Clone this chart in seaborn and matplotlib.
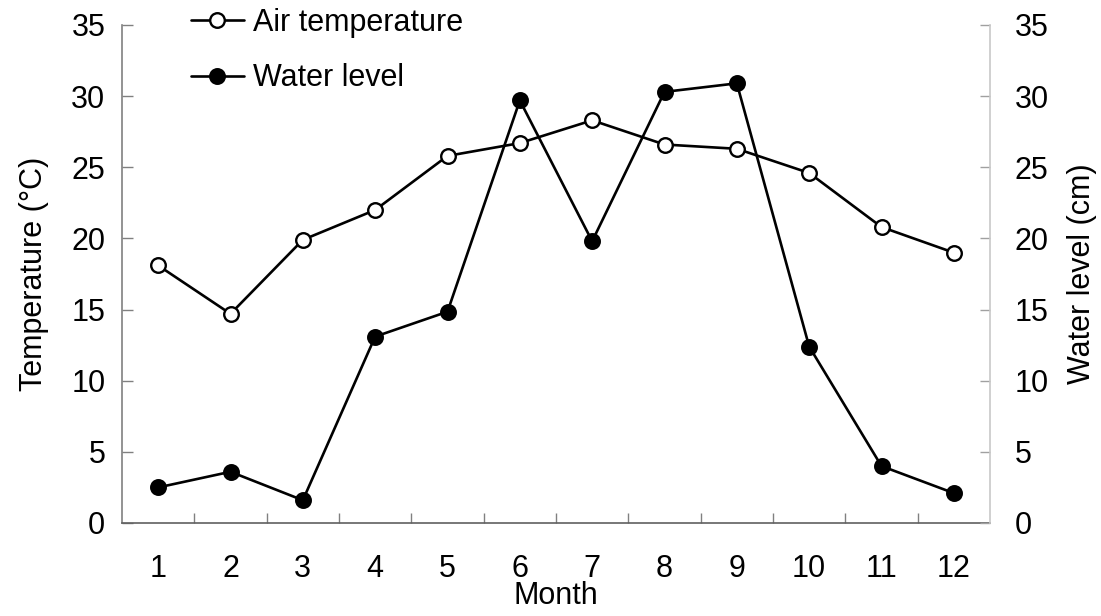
import matplotlib
matplotlib.use("Agg")
import matplotlib.pyplot as plt
import seaborn as sns
import numpy as np
import pandas as pd

months = [1, 2, 3, 4, 5, 6, 7, 8, 9, 10, 11, 12]
month_labels = ["1", "2", "3", "4", "5", "6", "7", "8", "9", "10", "11", "12"]
air_temperature = [18.1, 14.7, 19.9, 22.0, 25.8, 26.7, 28.3, 26.6, 26.3, 24.6, 20.8, 19.0]
water_level = [2.5, 3.6, 1.6, 13.1, 14.85, 29.7, 19.8, 30.3, 30.9, 12.4, 4.0, 2.1]
y_ticks = [0, 5, 10, 15, 20, 25, 30, 35]

df = pd.DataFrame({"Month": months, "Air": air_temperature, "Water": water_level})

sns.set_style("ticks")
plt.rcParams["font.family"] = ["Liberation Sans", "DejaVu Sans"]
plt.rcParams["text.color"] = "black"
plt.rcParams["axes.labelcolor"] = "black"
plt.rcParams["xtick.labelcolor"] = "black"
plt.rcParams["ytick.labelcolor"] = "black"
FS = 22

fig = plt.figure(figsize=(11.01, 6.16), dpi=100)
ax = fig.add_axes([122 / 1101, 1 - 523 / 616, (990 - 122) / 1101, (523 - 25) / 616])
ax2 = ax.twinx()

sns.lineplot(data=df, x="Month", y="Air", ax=ax, color="black", linewidth=1.9,
             marker="o", markersize=10.5, markerfacecolor="white",
             markeredgecolor="black", markeredgewidth=1.7, label="Air temperature",
             legend=False)
sns.lineplot(data=df, x="Month", y="Water", ax=ax2, color="black", linewidth=1.9,
             marker="o", markersize=10.5, markerfacecolor="black",
             markeredgecolor="black", markeredgewidth=1.7, label="Water level",
             legend=False)

for a in (ax, ax2):
    a.set_ylim(0, 35)
    a.set_xlim(0.5, 12.5)
    a.set_yticks(y_ticks)

ax.set_xticks(months)
ax.set_xticklabels(month_labels, fontsize=FS)
ax.set_xticks(np.arange(1.5, 12.5, 1.0), minor=True)
ax.tick_params(axis="x", which="major", length=0, pad=22)
ax.tick_params(axis="x", which="minor", direction="in", length=7, color="#808080", width=1)
ax.tick_params(axis="y", direction="in", length=8, color="#808080", width=1,
               labelsize=FS, pad=12)
ax2.tick_params(axis="y", direction="in", length=7, color="#a0a0a0", width=1,
                labelsize=FS, pad=18)
ax.set_yticklabels([str(v) for v in y_ticks])
ax2.set_yticklabels([str(v) for v in y_ticks])

ax.set_xlabel("Month", fontsize=FS, labelpad=-2)
ax.set_ylabel("Temperature (\u00b0C)", fontsize=FS, labelpad=16)
ax2.set_ylabel("Water level (cm)", fontsize=FS, labelpad=13)

for a in (ax, ax2):
    a.spines["top"].set_visible(False)
ax.spines["left"].set_color("#808080")
ax.spines["bottom"].set_color("#606060")
ax.spines["right"].set_visible(False)
ax2.spines["left"].set_visible(False)
ax2.spines["bottom"].set_visible(False)
ax2.spines["right"].set_color("#c8c8c8")
for a in (ax, ax2):
    for s in a.spines.values():
        s.set_linewidth(1.2)

h1, l1 = ax.get_legend_handles_labels()
h2, l2 = ax2.get_legend_handles_labels()
leg = ax2.legend(h1 + h2, l1 + l2, loc="upper left", frameon=False, fontsize=FS,
                 bbox_to_anchor=(189 / 1101, 1 - 6 / 616), bbox_transform=fig.transFigure,
                 handlelength=1.75, handletextpad=0.3, labelspacing=0.85,
                 borderaxespad=0, borderpad=0.05)

fig.savefig("out.png", dpi=100)
